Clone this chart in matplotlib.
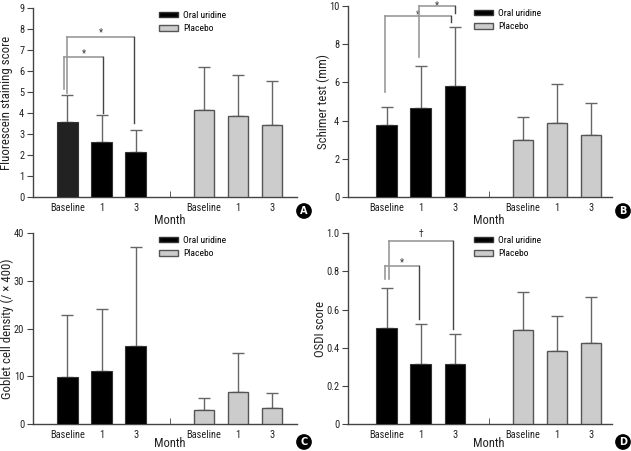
import matplotlib
matplotlib.use("Agg")
import matplotlib.pyplot as plt
from matplotlib import font_manager
from matplotlib.patches import Patch

# pick a narrow font if one is installed, otherwise Liberation Sans slightly smaller
narrow = None
for key in ["LiberationSansNarrow-Regular", "RobotoCondensed-Regular", "OpenSansCondensed",
            "Roboto_Condensed", "OpenSans_Condensed"]:
    for f in font_manager.fontManager.ttflist:
        if key.lower() in f.fname.lower().replace(" ", "") and "bold" not in f.fname.lower() \
                and "italic" not in f.fname.lower():
            narrow = f.name
            break
    if narrow:
        break
if narrow:
    plt.rcParams["font.family"] = [narrow, "DejaVu Sans"]
    SC = 1.0
else:
    plt.rcParams["font.family"] = ["Liberation Sans", "DejaVu Sans"]
    SC = 0.84

# ---------------- data ----------------
months = ["Baseline", "1", "3"]
groups = ["Oral uridine", "Placebo"]

# Panel A: Fluorescein staining score
a_uridine = [3.55, 2.6, 2.15]
a_uridine_sd = [1.33, 1.3, 1.02]
a_placebo = [4.15, 3.85, 3.43]
a_placebo_sd = [2.02, 1.95, 2.1]

# Panel B: Schirmer test (mm)
b_uridine = [3.77, 4.66, 5.8]
b_uridine_sd = [0.95, 2.18, 3.08]
b_placebo = [2.98, 3.87, 3.25]
b_placebo_sd = [1.2, 2.04, 1.65]

# Panel C: Goblet cell density
c_uridine = [9.9, 11.2, 16.3]
c_uridine_sd = [12.9, 13.0, 20.7]
c_placebo = [3.0, 6.7, 3.35]
c_placebo_sd = [2.6, 8.2, 3.1]

# Panel D: OSDI score
d_uridine = [0.502, 0.317, 0.314]
d_uridine_sd = [0.209, 0.207, 0.158]
d_placebo = [0.493, 0.385, 0.423]
d_placebo_sd = [0.2, 0.183, 0.241]

# brackets: (x_left, y_left_bottom, y_top, x_right, y_right_bottom, label, label_y)
a_brackets = [
    (0.9, 5.15, 6.65, 2.05, 4.0, "*", 6.95),
    (1.0, 4.95, 7.63, 2.95, 3.5, "*", 7.95),
]
b_brackets = [
    (0.95, 5.5, 9.5, 2.9, 9.15, "*", 9.72),
    (1.95, 7.35, 10.0, 3.0, 9.65, "*", 10.2),
]
d_brackets = [
    (0.95, 0.758, 0.826, 1.95, 0.55, "*", 0.862),
    (1.07, 0.758, 0.96, 2.95, 0.5, "\u2020", 1.01),
]

W, H = 631, 451
fig = plt.figure(figsize=(W / 100, H / 100), dpi=100)

def ax_rect(x0, x1, ytop, ybot):
    return [x0 / W, (H - ybot) / H, (x1 - x0) / W, (ybot - ytop) / H]

panels = [
    dict(rect=ax_rect(33.3, 297, 8, 197), xl=(0.0, 7.73), ylim=(0, 9), yt=list(range(10)),
         ytl=[str(i) for i in range(10)], ylabel="Fluorescein staining score",
         u=a_uridine, usd=a_uridine_sd, p=a_placebo, psd=a_placebo_sd, br=a_brackets,
         letter="A", lpos=(304, 211), ylx=7, first_dark=True, moff=-17),
    dict(rect=ax_rect(348.3, 612, 6, 197), xl=(-0.124, 7.61), ylim=(0, 10), yt=[0, 2, 4, 6, 8, 10],
         ytl=["0", "2", "4", "6", "8", "10"], ylabel="Schimer test (mm)",
         u=b_uridine, usd=b_uridine_sd, p=b_placebo, psd=b_placebo_sd, br=b_brackets,
         letter="B", lpos=(623, 211), ylx=323, first_dark=False, moff=-17),
    dict(rect=ax_rect(33.3, 297, 233, 424.3), xl=(0.0, 7.73), ylim=(0, 40), yt=[0, 10, 20, 30, 40],
         ytl=["0", "10", "20", "30", "40"], ylabel="Goblet cell density (/ \u00d7 400)",
         u=c_uridine, usd=c_uridine_sd, p=c_placebo, psd=c_placebo_sd, br=[],
         letter="C", lpos=(304, 442), ylx=7, first_dark=False, moff=-14),
    dict(rect=ax_rect(348.3, 612, 233, 424.3), xl=(-0.124, 7.61), ylim=(0, 1.0),
         yt=[0, 0.2, 0.4, 0.6, 0.8, 1.0], ytl=["0", "0.2", "0.4", "0.6", "0.8", "1.0"],
         ylabel="OSDI score",
         u=d_uridine, usd=d_uridine_sd, p=d_placebo, psd=d_placebo_sd, br=d_brackets,
         letter="D", lpos=(623, 442), ylx=320, first_dark=False, moff=-14),
]

xu = [1, 2, 3]
xp = [5, 6, 7]
bw = 0.6
TXT = "#222222"

for P in panels:
    ax = fig.add_axes(P["rect"])
    ucol = ["#222222" if (P["first_dark"] and i == 0) else "black" for i in range(3)]
    ax.bar(xu, P["u"], width=bw, color=ucol, edgecolor="#333333", linewidth=0.8, zorder=3)
    ax.bar(xp, P["p"], width=bw, color="#cccccc", edgecolor="#555555", linewidth=1.0, zorder=3)
    ax.errorbar(xu, P["u"], yerr=[[0] * 3, P["usd"]], fmt="none", ecolor="#666666",
                elinewidth=1.0, capsize=4, capthick=1.0, zorder=2)
    ax.errorbar(xp, P["p"], yerr=[[0] * 3, P["psd"]], fmt="none", ecolor="#666666",
                elinewidth=1.0, capsize=4, capthick=1.0, zorder=2)
    ax.set_xlim(*P["xl"])
    ax.set_ylim(*P["ylim"])
    ax.set_yticks(P["yt"])
    ax.set_yticklabels(P["ytl"])
    ax.set_xticks(xu + xp)
    ax.set_xticklabels(months + months)
    ax.set_xticks([4], minor=True)
    ax.tick_params(axis="x", which="major", length=0, labelsize=7.5 * SC, pad=4, colors=TXT)
    ax.tick_params(axis="x", which="minor", length=4, direction="in", color="#444444")
    ax.tick_params(axis="y", length=4, direction="out", labelsize=7.5 * SC, color="#444444",
                   labelcolor=TXT, pad=2.5)
    for s in ["top", "right"]:
        ax.spines[s].set_visible(False)
    for s in ["left", "bottom"]:
        ax.spines[s].set_color("#444444")
        ax.spines[s].set_linewidth(1.0)
    ax.annotate("Month", xy=(4, 0), xycoords=ax.get_xaxis_transform(), xytext=(0, P["moff"]),
                textcoords="offset points", ha="center", va="center", fontsize=9.0 * SC, color=TXT)
    fig.text(P["ylx"] / W, P["rect"][1] + P["rect"][3] / 2, P["ylabel"], rotation=90,
             ha="center", va="center", fontsize=9.3 * SC, color=TXT)
    for (xl_, yl_, yt_, xr_, yr_, lab, ly) in P["br"]:
        ax.plot([xl_, xl_], [yl_, yt_], color="#999999", lw=1.2, clip_on=False, zorder=4)
        ax.plot([xl_, xr_], [yt_, yt_], color="#999999", lw=1.2, clip_on=False, zorder=4)
        ax.plot([xr_, xr_], [yt_, yr_], color="#444444", lw=1.0, clip_on=False, zorder=4)
        ax.annotate(lab, xy=((xl_ + xr_) / 2, ly), xytext=(0, -2), textcoords="offset points",
                    ha="center", va="center", fontsize=7, color="#333333", annotation_clip=False)
    handles = [Patch(facecolor="black", edgecolor="#333333", label=groups[0]),
               Patch(facecolor="#cccccc", edgecolor="#555555", label=groups[1])]
    ax.legend(handles=handles, loc="upper left", bbox_to_anchor=(0.462, 1.005), frameon=False,
              fontsize=6.8 * SC, handlelength=2.0, handleheight=0.55, labelspacing=0.45,
              handletextpad=0.6, borderaxespad=0)
    fig.text(P["lpos"][0] / W, 1 - P["lpos"][1] / H, P["letter"], ha="center", va="center",
             fontsize=7, fontweight="bold", color="white", family="DejaVu Sans",
             bbox=dict(boxstyle="circle,pad=0.22", facecolor="black", edgecolor="black"))

fig.savefig("out.png", dpi=100)
